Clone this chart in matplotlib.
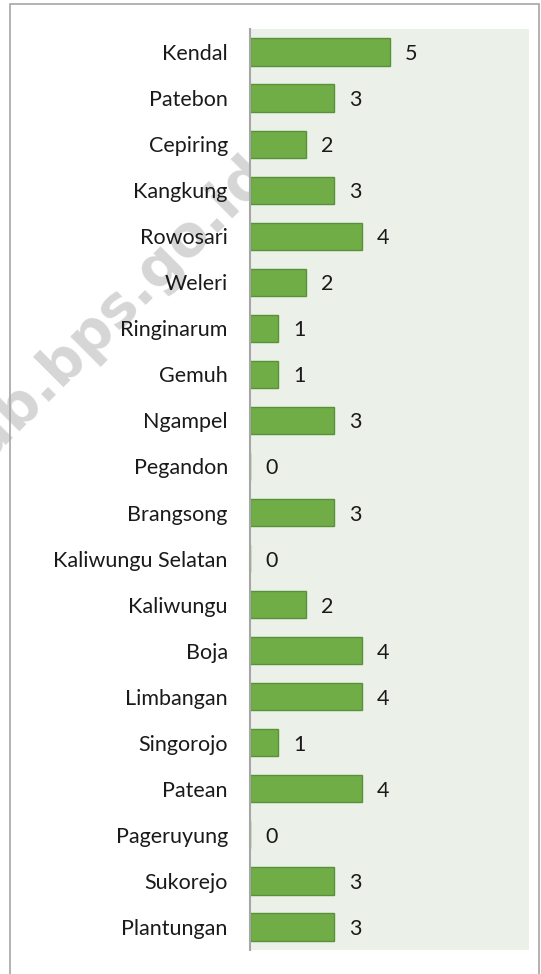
import matplotlib.pyplot as plt
from matplotlib.patches import Rectangle

kecamatan = ['Kendal', 'Patebon', 'Cepiring', 'Kangkung', 'Rowosari', 'Weleri',
             'Ringinarum', 'Gemuh', 'Ngampel', 'Pegandon', 'Brangsong',
             'Kaliwungu Selatan', 'Kaliwungu', 'Boja', 'Limbangan', 'Singorojo',
             'Patean', 'Pageruyung', 'Sukorejo', 'Plantungan']
jumlah = [5, 3, 2, 3, 4, 2, 1, 1, 3, 0, 3, 0, 2, 4, 4, 1, 4, 0, 3, 3]

plt.rcParams['font.family'] = ['Lato', 'DejaVu Sans']

fig = plt.figure(figsize=(5.41, 9.74), dpi=100)

# watermark, mostly hidden behind the plot area
fig.text(271 / 541, 1 - 175 / 974, 'kendalkab.bps.go.id', rotation=45,
         rotation_mode='anchor', ha='right', va='baseline', fontsize=41,
         fontweight='bold', family='DejaVu Sans', color='#d6d6d6', zorder=0)

# frame around the chart
fig.patches.append(Rectangle((10 / 541, -0.01), 529 / 541, 1 - 4 / 974 + 0.01,
                             transform=fig.transFigure, fill=False,
                             edgecolor='#a6a6a6', linewidth=1.2))

ax = fig.add_axes([250 / 541, 1 - 950 / 974, 279 / 541, 921 / 974])
ax.set_facecolor('#ebf0e9')
ax.set_zorder(1)

y = list(range(len(kecamatan)))
ax.barh(y, jumlah, height=0.59, color='#70ad47', edgecolor='#5a9138', linewidth=1)

for yi, v in zip(y, jumlah):
    ax.annotate(str(v), (v, yi), xytext=(11, 0), textcoords='offset points',
                ha='left', va='center_baseline', fontsize=15.5, color='#1a1a1a')

ax.set_xlim(0, 10)
ax.set_ylim(len(kecamatan) - 0.5, -0.5)
ax.set_yticks(y)
ax.set_yticklabels(kecamatan, fontsize=15.5, color='#1a1a1a')
ax.set_xticks([])
ax.tick_params(axis='y', length=0, pad=16)
for s in ['top', 'right', 'bottom']:
    ax.spines[s].set_visible(False)
ax.spines['left'].set_color('#a6a6a6')
ax.spines['left'].set_linewidth(1.5)

fig.savefig('out.png', dpi=100)
